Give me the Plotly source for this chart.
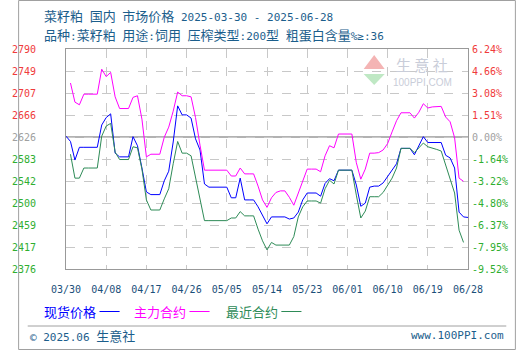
import plotly.graph_objects as go
import pandas as pd
import numpy as np

start_date = "2025-03-30"
end_date = "2025-06-28"

# 现货价格 (daily from 03/30)
spot_values = [2626, 2616, 2581, 2605, 2605, 2605, 2605, 2605, 2647, 2661,
               2668, 2594, 2587, 2587, 2587, 2625, 2608, 2566, 2521, 2516,
               2516, 2516, 2542, 2560, 2615, 2683, 2666, 2666, 2660, 2621,
               2600, 2536, 2530, 2530, 2530, 2530, 2530, 2510, 2510, 2547,
               2506, 2506, 2506, 2493, 2478, 2461, 2474, 2474, 2474, 2474,
               2470, 2472, 2483, 2506, 2519, 2519, 2519, 2513, 2537, 2546,
               2542, 2562, 2562, 2562, 2562, 2534, 2494, 2500, 2530, 2532,
               2532, 2538, 2550, 2560, 2574, 2603, 2603, 2603, 2591, 2608,
               2625, 2614, 2614, 2614, 2614, 2590, 2585, 2566, 2483, 2474,
               2473]
# 主力合约 (daily from 03/31)
main_values = [2726, 2690, 2685, 2705, 2705, 2705, 2705, 2752, 2738, 2746,
               2700, 2678, 2678, 2678, 2699, 2702, 2658, 2587, 2592, 2592,
               2592, 2624, 2643, 2673, 2709, 2702, 2702, 2700, 2661, 2609,
               2562, 2562, 2562, 2562, 2562, 2562, 2551, 2551, 2566, 2555,
               2555, 2555, 2532, 2506, 2492, 2510, 2520, 2523, 2523, 2511,
               2496, 2519, 2541, 2564, 2564, 2564, 2559, 2589, 2608, 2604,
               2630, 2630, 2630, 2630, 2576, 2545, 2564, 2594, 2594, 2595,
               2600, 2612, 2634, 2655, 2670, 2670, 2670, 2660, 2671, 2687,
               2679, 2681, 2682, 2682, 2662, 2653, 2623, 2547, 2541]
# 最近合约 (daily from 03/31)
near_values = [2592, 2547, 2547, 2566, 2566, 2566, 2566, 2626, 2645, 2650,
               2596, 2582, 2582, 2582, 2606, 2604, 2564, 2506, 2487, 2487,
               2487, 2508, 2527, 2574, 2616, 2594, 2594, 2589, 2547, 2506,
               2467, 2467, 2467, 2467, 2467, 2467, 2472, 2472, 2484, 2476,
               2476, 2476, 2451, 2429, 2412, 2426, 2421, 2421, 2421, 2421,
               2437, 2474, 2493, 2504, 2504, 2504, 2500, 2527, 2543, 2536,
               2562, 2562, 2562, 2562, 2515, 2472, 2485, 2512, 2512, 2512,
               2520, 2534, 2547, 2566, 2603, 2603, 2603, 2595, 2605, 2613,
               2606, 2604, 2601, 2598, 2572, 2545, 2519, 2449, 2426]

left_tick_labels = ["2376", "2417", "2459", "2500", "2542", "2583", "2626",
                    "2666", "2707", "2749", "2790"]
right_tick_labels = ["-9.52%", "-7.95%", "-6.37%", "-4.80%", "-3.22%", "-1.64%",
                     "0.00%", "1.51%", "3.08%", "4.66%", "6.24%"]
x_tick_labels = ["03/30", "04/08", "04/17", "04/26", "05/05", "05/14",
                 "05/23", "06/01", "06/10", "06/19", "06/28"]
y_min, y_max = 2376, 2790
base_index = 6

spot_dates = pd.date_range(start_date, periods=len(spot_values), freq="D")
fut_dates = pd.date_range("2025-03-31", periods=len(main_values), freq="D")
x_tick_dates = pd.date_range(start_date, end_date, freq="9D")
y_ticks = np.linspace(y_min, y_max, len(left_tick_labels))

RED = "#f03a3a"
GREEN = "#2fae2f"
GRAY = "#a0a0a0"


def colored(labels):
    out = []
    for i, t in enumerate(labels):
        c = GRAY if i == base_index else (RED if i > base_index else GREEN)
        out.append(f'<span style="color:{c}">{t}</span>')
    return out


def cjk(t, size=13):
    return f'<span style="font-family:Noto Sans CJK SC;font-size:{size}px">{t}</span>'


fig = go.Figure()
fig.add_trace(go.Scatter(x=spot_dates, y=spot_values, mode="lines",
                         line=dict(color="#0000ff", width=1), name="现货价格"))
fig.add_trace(go.Scatter(x=fut_dates, y=main_values, mode="lines",
                         line=dict(color="#ff00ff", width=1), name="主力合约"))
fig.add_trace(go.Scatter(x=fut_dates, y=near_values, mode="lines",
                         line=dict(color="#2e8b57", width=1), name="最近合约"))
# invisible trace on right axis so it renders
fig.add_trace(go.Scatter(x=[spot_dates[0]], y=[y_min], yaxis="y2", mode="markers",
                         marker=dict(opacity=0), showlegend=False, hoverinfo="skip"))

tickfont = dict(family="DejaVu Sans Mono", size=10)
fig.update_layout(
    width=520, height=350,
    margin=dict(l=50, r=50, t=49, b=81),
    paper_bgcolor="white", plot_bgcolor="white",
    showlegend=False,
    xaxis=dict(type="date", range=[start_date, end_date],
               tickvals=x_tick_dates, ticktext=x_tick_labels,
               tickfont=dict(family="DejaVu Sans Mono", size=10, color="#1b4f7a"),
               showgrid=True, gridcolor="#c8c8c8", griddash="dash", gridwidth=1,
               showline=True, linecolor="#999999", linewidth=1, mirror=True,
               ticks="", ticklabelstandoff=11, zeroline=False),
    yaxis=dict(range=[y_min, y_max], tickvals=y_ticks, ticktext=colored(left_tick_labels),
               tickfont=tickfont, showgrid=True, gridcolor="#c8c8c8", griddash="dash",
               showline=True, linecolor="#999999", linewidth=1, mirror=True,
               ticks="", ticklabelstandoff=27, zeroline=False),
    yaxis2=dict(range=[y_min, y_max], overlaying="y", side="right",
                tickvals=y_ticks, ticktext=colored(right_tick_labels),
                tickfont=tickfont, showgrid=False, ticks="", ticklabelstandoff=3,
                zeroline=False, showline=False),
)

# base (0%) solid line
fig.add_shape(type="line", xref="paper", yref="y", x0=0, x1=1,
              y0=y_ticks[base_index], y1=y_ticks[base_index],
              line=dict(color="#999999", width=1.5), layer="below")

# title texts
title_font = dict(family="DejaVu Sans Mono", size=11, color="#1b5e8c")
title1 = cjk("菜籽粕") + " " + cjk("国内") + " " + cjk("市场价格") + " 2025-03-30 - 2025-06-28"
title2 = (cjk("品种") + ":" + cjk("菜籽粕") + " " + cjk("用途") + ":" + cjk("饲用") + " "
          + cjk("压榨类型") + ":200" + cjk("型") + " " + cjk("粗蛋白含量") + "%≥:36")
fig.add_annotation(text=title1, xref="paper", yref="paper", x=(25 - 50) / 420, y=(269 - 15) / 220,
                   xanchor="left", yanchor="middle", showarrow=False, font=title_font)
fig.add_annotation(text=title2, xref="paper", yref="paper", x=(25 - 50) / 420, y=(269 - 35) / 220,
                   xanchor="left", yanchor="middle", showarrow=False, font=title_font)

# legend
legend_items = [("现货价格", "#0000ff", 25), ("主力合约", "#ff00ff", 119), ("最近合约", "#2e8b57", 215)]
for name, color, px in legend_items:
    fig.add_annotation(text=name, xref="paper", yref="paper",
                       x=(px - 50) / 420, y=(269 - 311) / 220, xanchor="left", yanchor="middle",
                       showarrow=False,
                       font=dict(family="Noto Sans CJK SC", size=13, color=color))
    fig.add_shape(type="line", xref="paper", yref="paper",
                  x0=(px + 60 - 50) / 420, x1=(px + 81 - 50) / 420,
                  y0=(269 - 311.5) / 220, y1=(269 - 311.5) / 220, line=dict(color=color, width=1))

# footer
fig.add_shape(type="line", xref="paper", yref="paper", x0=(10 - 50) / 420, x1=(510 - 50) / 420,
              y0=(269 - 326) / 220, y1=(269 - 326) / 220, line=dict(color="#a0a0a0", width=1))
fig.add_annotation(text="© 2025.06 " + cjk("生意社"), xref="paper", yref="paper",
                   x=(10 - 50) / 420, y=(269 - 335) / 220, xanchor="left", yanchor="middle",
                   showarrow=False, font=dict(family="DejaVu Sans Mono", size=11, color="#1b5e8c"))
fig.add_annotation(text="www.100PPI.com", xref="paper", yref="paper",
                   x=(510 - 50) / 420, y=(269 - 335) / 220, xanchor="right", yanchor="middle",
                   showarrow=False, font=dict(family="DejaVu Sans Mono", size=11, color="#1b5e8c"))

# watermark
fig.add_shape(type="path", xref="paper", yref="paper",
              path=f"M {(361-50)/420} {(269-69)/220} L {(372-50)/420} {(269-55)/220} L {(383-50)/420} {(269-69)/220} Z",
              fillcolor="#f4b4b4", line=dict(width=0), layer="below")
fig.add_shape(type="path", xref="paper", yref="paper",
              path=f"M {(361-50)/420} {(269-74)/220} L {(372-50)/420} {(269-85)/220} L {(383-50)/420} {(269-74)/220} Z",
              fillcolor="#bfe8c4", line=dict(width=0), layer="below")
fig.add_annotation(text="生 意 社", xref="paper", yref="paper", x=(422 - 50) / 420, y=(269 - 64) / 220,
                   xanchor="center", yanchor="middle", showarrow=False,
                   font=dict(family="Noto Sans CJK SC", size=15, color="#c9cdd9"))
fig.add_annotation(text="100PPI.COM", xref="paper", yref="paper", x=(422 - 50) / 420, y=(269 - 82) / 220,
                   xanchor="center", yanchor="middle", showarrow=False,
                   font=dict(family="Liberation Sans", size=10, color="#c9cdd9"))

# outer border
fig.add_shape(type="rect", xref="paper", yref="paper",
              x0=(0.5 - 50) / 420, x1=(519.5 - 50) / 420,
              y0=(269 - 349.5) / 220, y1=(269 - 0.5) / 220,
              line=dict(color="#a0a0a0", width=1))

fig.write_html("out.html")
